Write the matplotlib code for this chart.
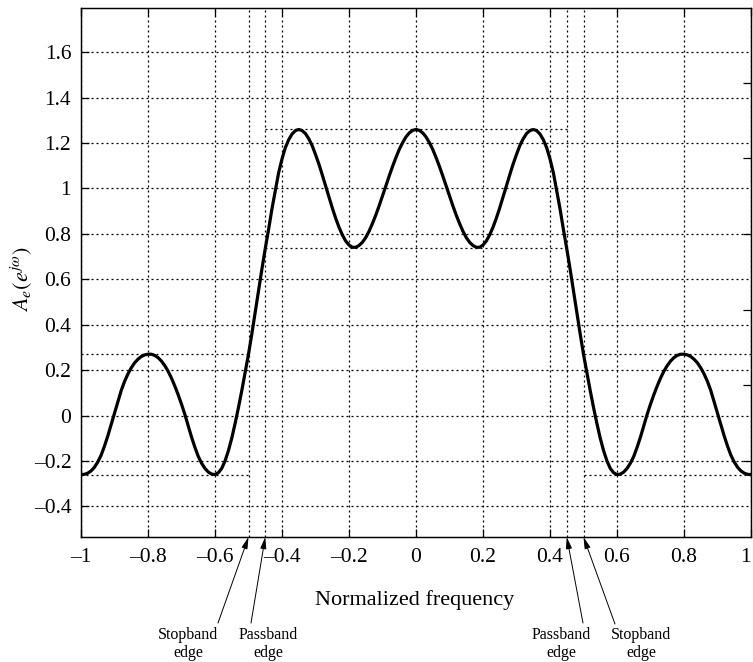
import numpy as np
import matplotlib
matplotlib.use("Agg")
import matplotlib.pyplot as plt

plt.rcParams["font.family"] = ["Liberation Serif", "DejaVu Serif"]
plt.rcParams["mathtext.fontset"] = "stix"

# ------------------------------------------------------------------ data
# amplitude response read off the reference, sampled every 0.01
FREQ = np.linspace(-1.0, 1.0, 201)
AMP = [
    # -1.00 ... -0.01
    -0.26, -0.259, -0.254, -0.244, -0.228, -0.205, -0.175, -0.135, -0.09, -0.04,
    0.01, 0.06, 0.11, 0.15, 0.183, 0.21, 0.232, 0.248, 0.26, 0.267,
    0.27, 0.27, 0.265, 0.255, 0.24, 0.22, 0.195, 0.165, 0.13, 0.092,
    0.05, 0.005, -0.045, -0.095, -0.14, -0.18, -0.21, -0.233, -0.249, -0.258,
    -0.26, -0.252, -0.233, -0.2, -0.155, -0.1, -0.035, 0.035, 0.11, 0.19,
    0.27, 0.36, 0.455, 0.55, 0.645, 0.735, 0.82, 0.91, 0.99, 1.07,
    1.13, 1.18, 1.215, 1.24, 1.255, 1.26, 1.255, 1.242, 1.219, 1.189,
    1.150, 1.108, 1.061, 1.012, 0.963, 0.915, 0.870, 0.830, 0.796, 0.769,
    0.751, 0.741, 0.741, 0.749, 0.763, 0.784, 0.812, 0.846, 0.883, 0.924,
    0.967, 1.011, 1.055, 1.097, 1.136, 1.172, 1.202, 1.227, 1.245, 1.256,
    # 0.00 ... 1.00
    1.26, 1.256, 1.245, 1.227, 1.202, 1.172, 1.136, 1.097, 1.055, 1.011,
    0.967, 0.924, 0.883, 0.846, 0.812, 0.784, 0.763, 0.749, 0.741, 0.741,
    0.751, 0.769, 0.796, 0.830, 0.870, 0.915, 0.963, 1.012, 1.061, 1.108,
    1.150, 1.189, 1.219, 1.242, 1.255, 1.26, 1.255, 1.24, 1.215, 1.18,
    1.13, 1.07, 0.99, 0.91, 0.82, 0.735, 0.645, 0.55, 0.455, 0.36,
    0.27, 0.19, 0.11, 0.035, -0.035, -0.1, -0.155, -0.2, -0.233, -0.252,
    -0.26, -0.258, -0.249, -0.233, -0.21, -0.18, -0.14, -0.095, -0.045, 0.005,
    0.05, 0.092, 0.13, 0.165, 0.195, 0.22, 0.24, 0.255, 0.265, 0.27,
    0.27, 0.267, 0.26, 0.248, 0.232, 0.21, 0.183, 0.15, 0.11, 0.06,
    0.01, -0.04, -0.09, -0.135, -0.175, -0.205, -0.228, -0.244, -0.254, -0.259,
    -0.26,
]

X_TICKS = [-1, -0.8, -0.6, -0.4, -0.2, 0, 0.2, 0.4, 0.6, 0.8, 1]
X_LABELS = ["\u20131", "\u20130.8", "\u20130.6", "\u20130.4", "\u20130.2",
            "0", "0.2", "0.4", "0.6", "0.8", "1"]
Y_TICKS = [-0.4, -0.2, 0, 0.2, 0.4, 0.6, 0.8, 1.0, 1.2, 1.4, 1.6]
Y_LABELS = ["\u20130.4", "\u20130.2", "0", "0.2", "0.4", "0.6", "0.8",
            "1", "1.2", "1.4", "1.6"]
RIGHT_TICKS = [-0.2, 0.1333, 0.4667, 0.8, 1.1333, 1.4667]

PASS_EDGE = 0.45
STOP_EDGE = 0.5
PASS_HI, PASS_LO = 1.26, 0.74
STOP_HI, STOP_LO = 0.27, -0.26

EDGE_NOTES = [("Stopband\nedge", -STOP_EDGE), ("Passband\nedge", -PASS_EDGE),
              ("Passband\nedge", PASS_EDGE), ("Stopband\nedge", STOP_EDGE)]

# ------------------------------------------------------------------ figure
W, H = 753, 662
fig = plt.figure(figsize=(W / 100, H / 100), dpi=100)
ax = fig.add_axes([81 / W, 1 - 537 / H, 670 / W, 529 / H])

dots = dict(color="black", lw=0.9, ls=(0, (1.6, 2.4)))

ax.grid(True, **dots)
for e in (-STOP_EDGE, -PASS_EDGE, PASS_EDGE, STOP_EDGE):
    ax.axvline(e, **dots)
ax.hlines([PASS_HI, PASS_LO], -PASS_EDGE, PASS_EDGE, **dots)
ax.hlines([STOP_HI, STOP_LO], -1, -STOP_EDGE, **dots)
ax.hlines([STOP_HI, STOP_LO], STOP_EDGE, 1, **dots)

ax.plot(FREQ, AMP, color="black", lw=2.3, zorder=3)

ax.set_xlim(-1, 1)
ax.set_ylim(-0.535, 1.795)
ax.set_xticks(X_TICKS, X_LABELS)
ax.set_yticks(Y_TICKS, Y_LABELS)
ax.get_xticklabels()[-1].set_horizontalalignment("right")
ax.tick_params(direction="in", top=True, right=False, length=6, width=0.9,
               labelsize=15.5)
ax.tick_params(axis="x", pad=8)
ax.tick_params(axis="y", pad=7)
for s in ax.spines.values():
    s.set_linewidth(0.9)

ax2 = ax.twinx()
ax2.set_ylim(ax.get_ylim())
ax2.set_yticks(RIGHT_TICKS)
ax2.tick_params(direction="in", length=6, width=0.9, labelright=False)
for s in ax2.spines.values():
    s.set_linewidth(0.9)

fig.text(22 / W, 1 - 279 / H, r"$A_e(e^{j\omega})$", rotation=90,
         ha="center", va="center", fontsize=16)
fig.text(415 / W, 1 - 600 / H, "Normalized frequency", ha="center",
         va="center", fontsize=16)

# label centres and arrow tails, in pixels from the top-left
note_pos = [(188, 644), (268, 644), (561, 644), (641, 644)]
tail_pos = [(218, 623), (251, 623), (583, 623), (615, 624)]
for (txt, e), (lx, ly), (ax_, ay) in zip(EDGE_NOTES, note_pos, tail_pos):
    fig.text(lx / W, 1 - ly / H, txt, ha="center", va="center",
             fontsize=11.5, linespacing=1.15)
    ax.annotate("", xy=(e, 0), xycoords=ax.get_xaxis_transform(),
                xytext=(ax_, H - ay), textcoords="figure pixels",
                annotation_clip=False,
                arrowprops=dict(arrowstyle="-|>,head_length=0.7,head_width=0.18",
                                color="black", lw=0.7, shrinkA=0, shrinkB=0,
                                mutation_scale=10))

fig.savefig("out.png", dpi=100)
